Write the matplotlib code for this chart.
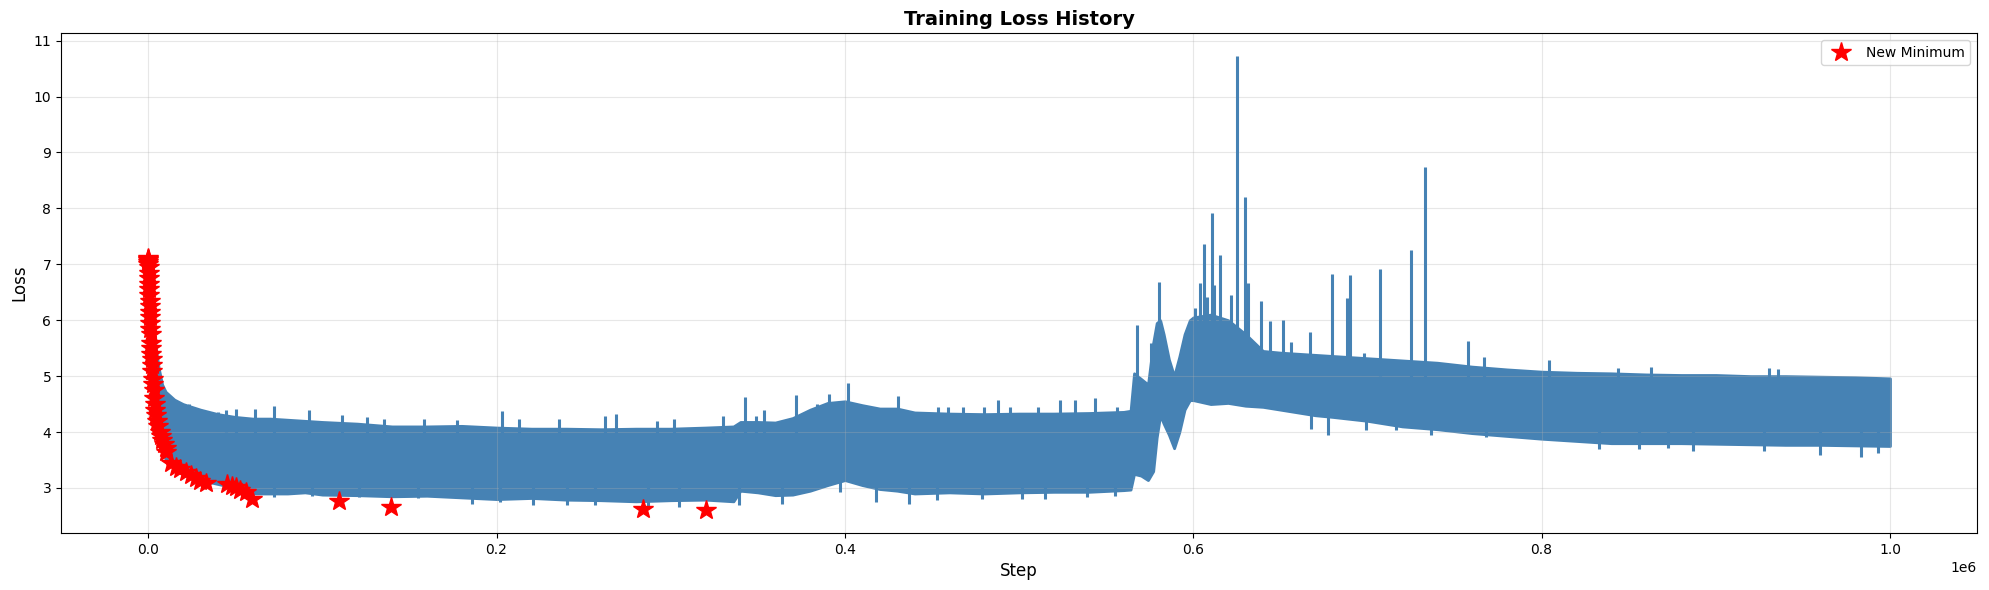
import matplotlib.pyplot as plt
import numpy as np

# envelope of the noisy loss curve (step in thousands)
env_step = np.array([
    0, 2, 4, 6, 8, 10, 15, 20,
    30, 40, 50, 60, 70, 80, 90, 100,
    120, 140, 160, 180, 200, 220, 240, 260, 280, 300, 320,
    336, 340, 350, 360, 370, 380, 390, 400, 410, 420, 430, 440,
    460, 480, 500, 520, 540, 560,
    564, 566, 570, 574, 577, 579, 581, 583, 586, 589, 592, 595, 598, 600,
    610, 620, 630, 640, 650, 660, 670, 680,
    700, 720, 740, 760, 780, 800, 820, 840, 860, 880, 900, 920, 940, 960, 980, 1000,
]) * 1000
env_high = np.array([
    7.12, 6.30, 5.60, 5.15, 4.85, 4.72, 4.58, 4.50,
    4.40, 4.32, 4.27, 4.24, 4.24, 4.22, 4.20, 4.18,
    4.15, 4.10, 4.10, 4.11, 4.08, 4.06, 4.06, 4.05, 4.06, 4.06, 4.08,
    4.10, 4.18, 4.18, 4.17, 4.25, 4.40, 4.52, 4.55, 4.48, 4.42, 4.42, 4.35,
    4.33, 4.32, 4.33, 4.33, 4.34, 4.36,
    4.38, 5.05, 4.95, 4.85, 5.60, 5.95, 6.00, 5.75, 5.30, 5.00, 5.35, 5.75, 6.00, 6.05,
    6.10, 6.00, 5.75, 5.45, 5.42, 5.40, 5.38, 5.36,
    5.32, 5.28, 5.24, 5.17, 5.12, 5.08, 5.06, 5.05, 5.03, 5.02, 5.02, 5.00, 5.00, 4.99, 4.98, 4.96,
])
env_low = np.array([
    7.12, 5.30, 4.50, 4.10, 3.85, 3.50, 3.38, 3.30,
    3.14, 3.07, 3.00, 2.90, 2.90, 2.90, 2.92, 2.88,
    2.87, 2.85, 2.86, 2.83, 2.80, 2.82, 2.79, 2.78, 2.76, 2.78, 2.79,
    2.76, 2.95, 2.92, 2.87, 2.88, 2.95, 3.05, 3.14, 3.05, 2.98, 2.95, 2.90,
    2.92, 2.90, 2.92, 2.93, 2.93, 2.96,
    2.97, 3.25, 3.22, 3.14, 3.30, 3.90, 4.30, 4.15, 3.95, 3.71, 4.00, 4.40, 4.57, 4.57,
    4.50, 4.52, 4.47, 4.45, 4.40, 4.35, 4.30, 4.27,
    4.20, 4.10, 4.05, 3.98, 3.93, 3.88, 3.84, 3.80, 3.80, 3.80, 3.79, 3.78, 3.77, 3.77, 3.76, 3.75,
])

# spikes above the band (step in thousands)
spike_step = np.array([
    23.5, 28.9, 39.8, 44.5, 50.6, 61.4, 72.3, 92.3, 111, 125.8, 135.4,
    158.3, 177.4, 203.2, 212.8, 236, 262, 268.6, 292, 302, 330, 342.8,
    349, 353.7, 372, 384, 390.6, 402, 430.7, 453.7, 459.4, 468, 480,
    487.7, 494.8, 511, 523.5, 532, 543.6, 556, 567.8, 576, 580.5,
    601, 604, 606, 607.7, 610.5, 612, 615.6, 621.6, 625, 629.6, 631.5,
    638.8, 644, 651.5, 656, 667, 679.7, 688, 690, 698, 707, 724.8, 733,
    758, 766.8, 804.5, 843.7, 862.8, 930.7, 935.5,
]) * 1000
spike_top = np.array([
    4.51, 4.42, 4.36, 4.39, 4.41, 4.41, 4.46, 4.40, 4.30, 4.26, 4.23,
    4.23, 4.22, 4.37, 4.24, 4.24, 4.28, 4.32, 4.20, 4.24, 4.28, 4.63,
    4.29, 4.39, 4.66, 4.51, 4.68, 4.87, 4.65, 4.45, 4.44, 4.45, 4.45,
    4.58, 4.44, 4.44, 4.58, 4.58, 4.60, 4.44, 5.91, 5.59, 6.68,
    6.21, 6.67, 7.36, 6.42, 7.91, 6.63, 7.16, 6.45, 10.73, 8.21, 6.66,
    6.34, 5.98, 6.01, 5.61, 5.79, 6.82, 6.39, 6.81, 5.41, 6.91, 7.25, 8.74,
    5.63, 5.35, 5.29, 5.15, 5.17, 5.14, 5.12,
])

# dips below the band (step in thousands)
dip_step = np.array([
    72, 94, 121, 155, 186, 202, 221, 240.5, 256.8, 287, 304.6, 339,
    363.8, 397, 418, 437, 452.7, 478.5, 501.5, 514.8, 539, 555,
    667.8, 677.4, 699.4, 716.6, 736.6, 768, 832.8, 856, 872.3, 886.7,
    927.8, 960, 983.3, 993,
]) * 1000
dip_bottom = np.array([
    2.84, 2.86, 2.84, 2.82, 2.72, 2.74, 2.69, 2.70, 2.69, 2.66, 2.66, 2.69,
    2.72, 2.93, 2.75, 2.72, 2.79, 2.80, 2.80, 2.80, 2.84, 2.86,
    4.06, 3.94, 4.03, 4.03, 3.94, 3.91, 3.69, 3.70, 3.71, 3.66,
    3.66, 3.59, 3.56, 3.62,
])

# new minimum markers
min_step = np.array([
    0, 30, 60, 100, 150, 200, 300, 400, 500, 600, 700, 800, 900, 1000,
    1100, 1200, 1300, 1400, 1500, 1650, 1800, 1950, 2100, 2300, 2550,
    2800, 3100, 3400, 3800, 4200, 4700, 5300, 5900, 6500, 7200, 8200,
    9000, 10100, 10500, 13000, 15900, 18500, 21600, 24500, 27300, 30000,
    33100, 45500, 48000, 50300, 53000, 56000, 59500, 109500, 139600,
    283900, 320200,
])
min_loss = np.array([
    7.12, 7.10, 7.07, 7.04, 7.00, 6.95, 6.85, 6.75, 6.65, 6.55, 6.45, 6.35, 6.25, 6.15,
    6.05, 5.95, 5.85, 5.75, 5.60, 5.50, 5.40, 5.30, 5.20, 5.10, 4.95,
    4.85, 4.75, 4.60, 4.50, 4.40, 4.30, 4.20, 4.10, 4.00, 3.92, 3.85,
    3.78, 3.72, 3.65, 3.45, 3.38, 3.33, 3.28, 3.23, 3.18, 3.13,
    3.08, 3.07, 3.04, 3.02, 2.97, 2.93, 2.80, 2.77, 2.66,
    2.62, 2.60,
])

fig, ax = plt.subplots(figsize=(19.9, 5.9), dpi=100)

ax.fill_between(env_step, env_low, env_high, color="steelblue",
                edgecolor="steelblue", linewidth=2)
# spikes start inside the band
spike_base = np.interp(spike_step, env_step, env_high) - 0.3
ax.vlines(spike_step, spike_base, spike_top, color="steelblue", linewidth=2.2)
dip_base = np.interp(dip_step, env_step, env_low) + 0.3
ax.vlines(dip_step, dip_bottom, dip_base, color="steelblue", linewidth=2.2)

ax.plot(min_step, min_loss, "r*", markersize=15, linestyle="none",
        label="New Minimum", zorder=5)

ax.set_xlabel("Step", fontsize=12)
ax.set_ylabel("Loss", fontsize=12)
ax.set_title("Training Loss History", fontsize=14, fontweight="bold")
ax.legend(loc="upper right")
ax.grid(True, alpha=0.3)
fig.subplots_adjust(left=0.0307, right=0.9935, top=0.944, bottom=0.0966)
plt.savefig("out.png", dpi=100)
